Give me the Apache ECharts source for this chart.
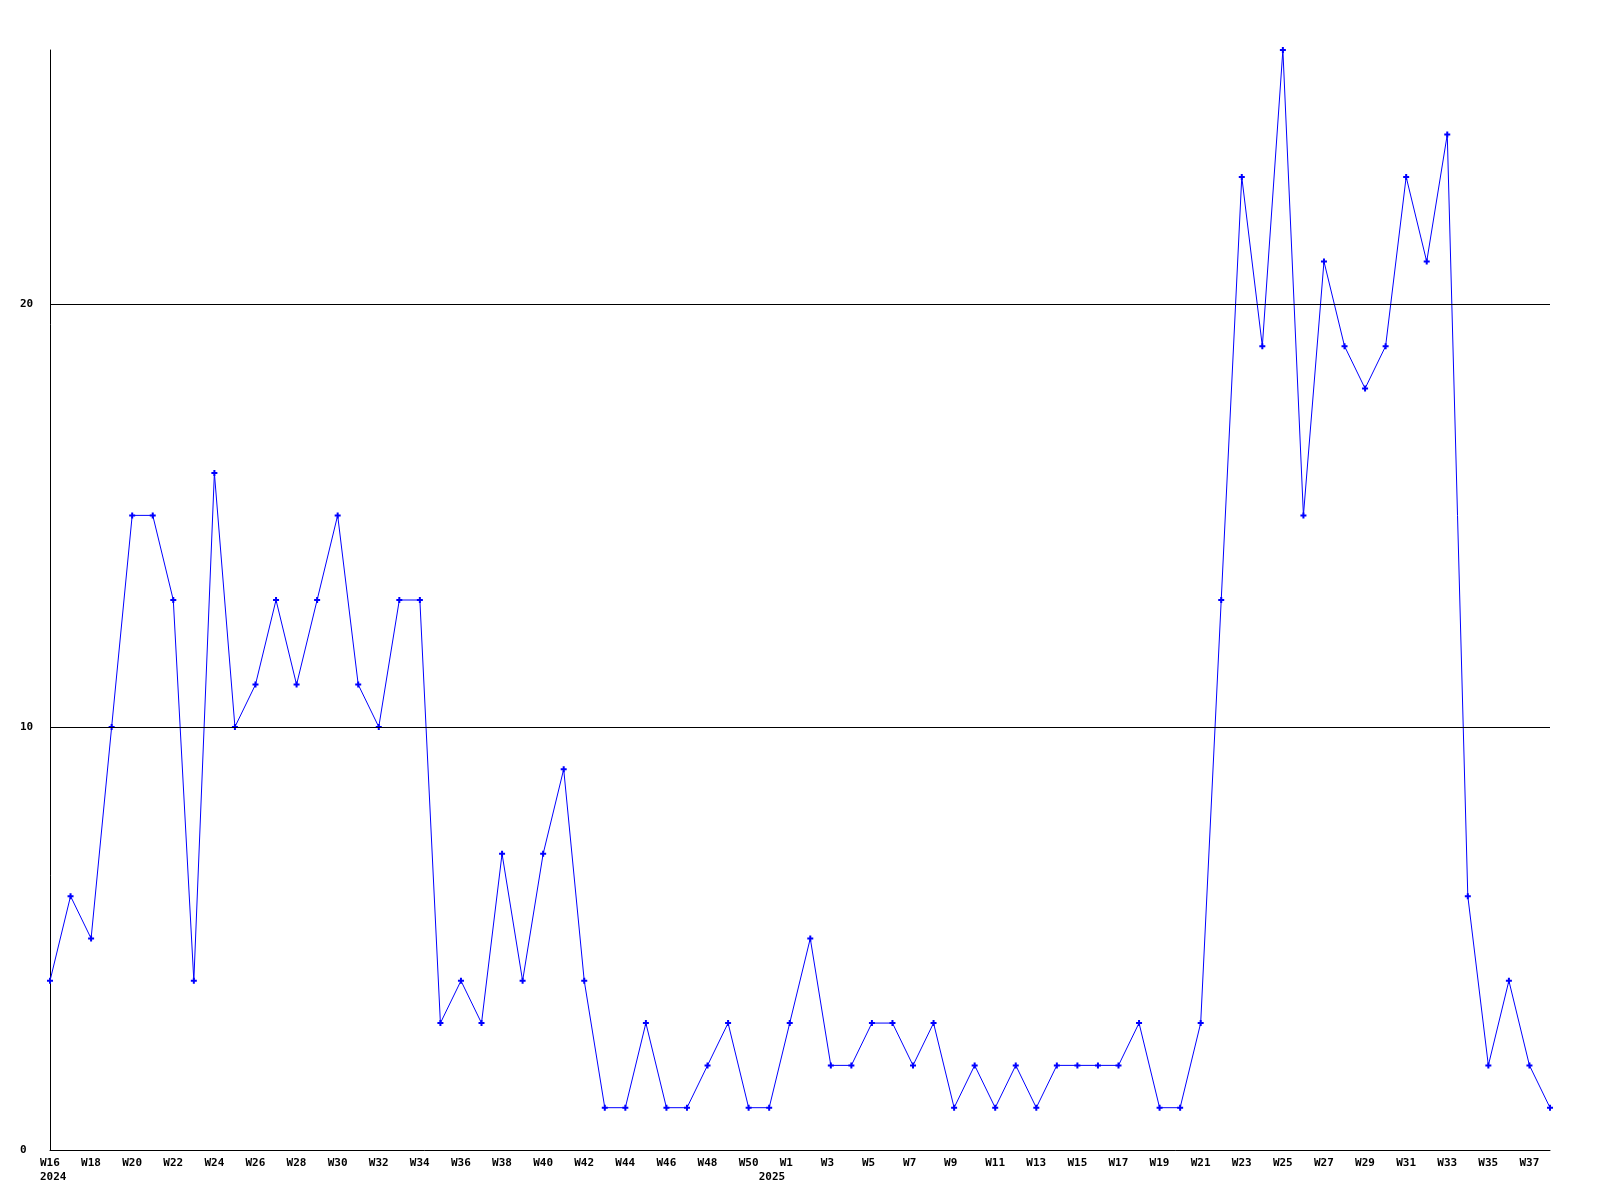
<!DOCTYPE html>
<html>
<head>
<meta charset="UTF-8">
<title>weekly</title>
<script src="https://cdn.jsdelivr.net/npm/echarts@6/dist/echarts.min.js"></script>
<style>
  html, body { margin: 0; padding: 0; background: #fff; }
  #chart { width: 1600px; height: 1200px; }
</style>
</head>
<body>
<div id="chart"></div>
<script>
// weeks: 2024 W16..W51, then 2025 W1..W38
var weeks = [
  'W16','W17','W18','W19','W20','W21','W22','W23','W24','W25','W26','W27',
  'W28','W29','W30','W31','W32','W33','W34','W35','W36','W37','W38','W39',
  'W40','W41','W42','W43','W44','W45','W46','W47','W48','W49','W50','W51',
  'W1','W2','W3','W4','W5','W6','W7','W8','W9','W10','W11','W12',
  'W13','W14','W15','W16','W17','W18','W19','W20','W21','W22','W23','W24',
  'W25','W26','W27','W28','W29','W30','W31','W32','W33','W34','W35','W36',
  'W37','W38'
];
// year shown under the first week of each year: [index, text, x offset]
var yearMarks = [[0, '2024', -10], [36, '2025', -31]];

var counts = [
  4, 6, 5, 10, 15, 15, 13, 4, 16, 10, 11, 13,
  11, 13, 15, 11, 10, 13, 13, 3, 4, 3, 7, 4,
  7, 9, 4, 1, 1, 3, 1, 1, 2, 3, 1, 1,
  3, 5, 2, 2, 3, 3, 2, 3, 1, 2, 1, 2,
  1, 2, 2, 2, 2, 3, 1, 1, 3, 13, 23, 19,
  26, 15, 21, 19, 18, 19, 23, 21, 24, 6, 2, 4,
  2, 1
];

var yTicks = [0, 10, 20];
var yMax = 26;

var chart = echarts.init(document.getElementById('chart'));
var font = '"DejaVu Sans Mono", "Liberation Mono", monospace';

chart.setOption({
  animation: false,
  grid: { left: 50, right: 50, top: 50, bottom: 50, containLabel: false },
  xAxis: {
    type: 'category',
    data: weeks,
    boundaryGap: false,
    axisLine: { lineStyle: { color: '#000', width: 1 } },
    axisTick: { show: false },
    axisLabel: {
      interval: 1,
      color: '#000',
      fontFamily: font,
      fontWeight: 'bold',
      fontSize: 11,
      lineHeight: 15,
      margin: 6,
      align: 'left',
      padding: [0, 0, 0, -10]
    },
    splitLine: { show: false }
  },
  yAxis: {
    type: 'value',
    min: 0,
    max: yMax,
    interval: 10,
    axisLine: { show: true, lineStyle: { color: '#000', width: 1 } },
    axisTick: { show: false },
    axisLabel: {
      color: '#000',
      fontFamily: font,
      fontWeight: 'bold',
      fontSize: 11,
      align: 'left',
      margin: 30,
      showMaxLabel: false,
      formatter: function (v) { return yTicks.indexOf(v) >= 0 ? String(v) : ''; }
    },
    splitLine: { show: false }
  },
  series: [{
    type: 'line',
    data: counts,
    symbol: 'path://M2,0H4V2H6V4H4V6H2V4H0V2H2Z',
    symbolSize: 6,
    showAllSymbol: true,
    lineStyle: { color: '#0000ff', width: 1 },
    itemStyle: { color: '#0000ff' },
    markLine: {
      silent: true,
      symbol: 'none',
      label: { show: false },
      lineStyle: { color: '#000', width: 1, type: 'solid' },
      data: yTicks.slice(1).map(function (t) { return { yAxis: t }; })
    },
    z: 3
  }]
});

// year labels under the first week of each year
var y0 = chart.convertToPixel({ yAxisIndex: 0 }, 0);
chart.setOption({
  graphic: yearMarks.map(function (m) {
    var x = chart.convertToPixel({ xAxisIndex: 0 }, m[0]);
    return {
      type: 'text',
      x: x + m[2],
      y: y0 + 22,
      style: {
        text: m[1],
        fill: '#000',
        font: 'bold 11px ' + font
      }
    };
  })
});
</script>
</body>
</html>
